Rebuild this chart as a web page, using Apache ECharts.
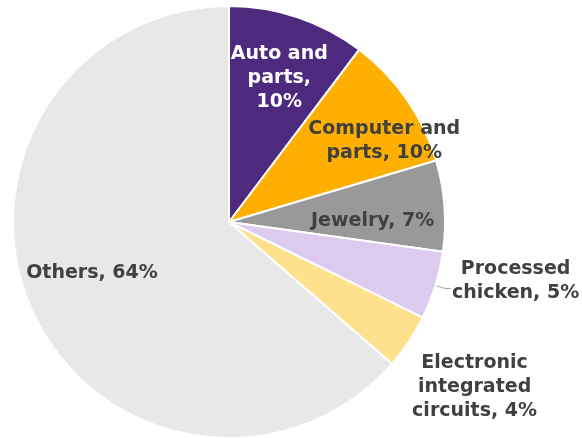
<!DOCTYPE html>
<html><head><meta charset="utf-8">
<script src="https://cdn.jsdelivr.net/npm/echarts@6/dist/echarts.min.js"></script>
<style>html,body{margin:0;padding:0;background:#fff}#c{width:582px;height:438px}</style>
</head><body><div id="c"></div>
<script>
const categories = ['Auto and parts', 'Computer and parts', 'Jewelry', 'Processed chicken', 'Electronic integrated circuits', 'Others'];
const shares = [10.3, 10.1, 6.8, 5.1, 4.1, 63.6];
const labelTemplates = ['Auto and\nparts,\n{p}%', 'Computer and\nparts, {p}%', 'Jewelry, {p}%', 'Processed\nchicken, {p}%', 'Electronic\nintegrated\ncircuits, {p}%', 'Others, {p}%'];
const colors = ['#4E2A7F', '#FFAF00', '#999999', '#DCCBEE', '#FFE08C', '#E8E8E8'];
const labelColors = ['#FFFFFF', '#404040', '#404040', '#404040', '#404040', '#404040'];
const labelOffsets = [[15, -39], [64, -18], [33, 7], [0, 0], [0, 0], [-36, 5]];
const outsideIdx = [3, 4];

const chart = echarts.init(document.getElementById('c'));
const data = categories.map((name, i) => {
  const outside = outsideIdx.includes(i);
  return {
    name, value: shares[i],
    itemStyle: { color: colors[i] },
    label: outside ? {
      position: 'outside', color: labelColors[i], distanceToLabelLine: 1,
      padding: i === 3 ? [0, 0, 15, 0] : 0
    } : {
      position: 'inside', color: labelColors[i], offset: labelOffsets[i]
    },
    labelLine: { show: i === 3, length: 10, length2: 6, lineStyle: { color: '#A6A6A6', width: 1 } }
  };
});
chart.setOption({
  animation: false,
  series: [{
    type: 'pie',
    center: [229, 222],
    radius: [0, 216],
    startAngle: 90,
    clockwise: true,
    avoidLabelOverlap: false,
    itemStyle: { borderColor: '#FFFFFF', borderWidth: 2 },
    label: {
      fontFamily: 'DejaVu Sans',
      fontWeight: 'bold',
      fontSize: 19,
      lineHeight: 24,
      align: 'center',
      formatter: p => {
        const lines = labelTemplates[p.dataIndex].replace('{p}', Math.round(p.percent)).split('\n');
        return lines.map(l => '{c|' + l + '}').join('\n');
      },
      rich: { c: { fontFamily: 'DejaVu Sans', fontWeight: 'bold', fontSize: 19, lineHeight: 24, align: 'center' } }
    },
    labelLayout: p => {
      if (p.dataIndex === 4) return { dx: -12, dy: 40 };
      return {};
    },
    data
  }]
});
</script></body></html>
